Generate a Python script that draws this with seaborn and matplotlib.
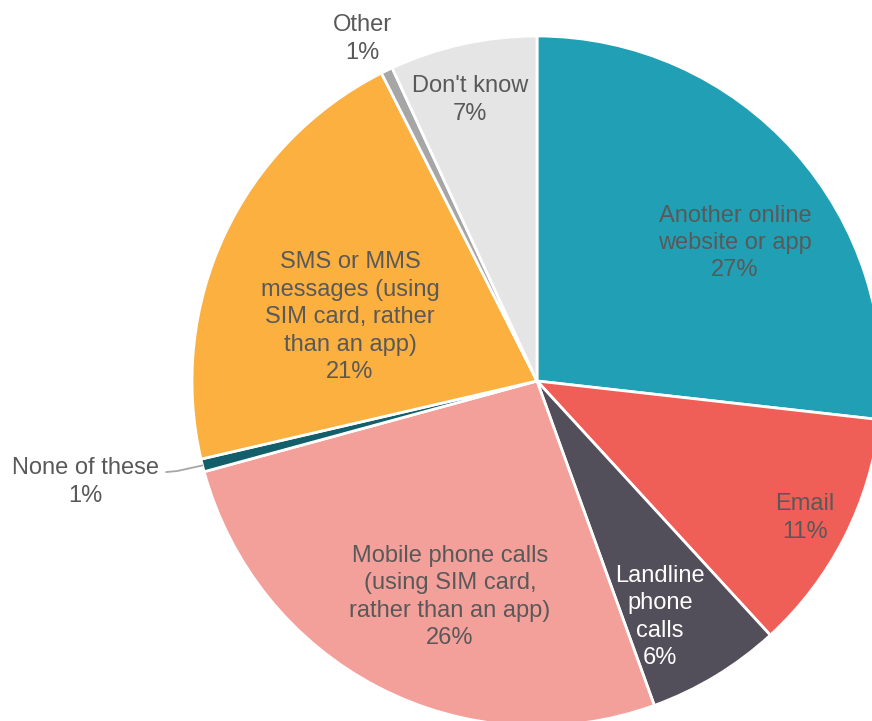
import matplotlib
matplotlib.use("Agg")
import matplotlib.pyplot as plt
import seaborn as sns
import numpy as np

# ---- data ----
categories = ["Another online\nwebsite or app", "Email", "Landline\nphone\ncalls",
              "Mobile phone calls\n(using SIM card,\nrather than an app)", "None of these",
              "SMS or MMS\nmessages (using\nSIM card, rather\nthan an app)", "Other", "Don't know"]
values = [26.8, 11.4, 6.3, 26.3, 0.6, 21.2, 0.55, 6.9]
colors = ["#21A0B5", "#EF5F58", "#524F5A", "#F4A09A", "#135E6B", "#FBB040", "#A6A6A6", "#E5E5E5"]

# ---- styling / layout ----
label_pos = [(0.574, 0.400), (0.777, -0.397), (0.357, -0.684), (-0.252, -0.626),
             (-1.310, -0.293), (-0.542, 0.185), (-0.507, 0.991), (-0.194, 0.814)]
label_colors = ["#595959", "#595959", "white", "#595959", "#595959", "#595959", "#595959", "#595959"]

sns.set_theme(style="white")
plt.rcParams['font.family'] = ['Liberation Sans', 'DejaVu Sans']

fig = plt.figure(figsize=(8.72, 7.21), dpi=100)
ax = fig.add_axes([0, 0, 1, 1])
wedges, _ = ax.pie(values, colors=colors, startangle=90, counterclock=False,
                   radius=1, center=(0, 0),
                   wedgeprops=dict(edgecolor="white", linewidth=2))
ax.set_xlim(-1.5565, 0.971)
ax.set_ylim(-0.9855, 1.1043)
ax.axis("off")

total = sum(values)
for cat, v, (x, y), c in zip(categories, values, label_pos, label_colors):
    ax.text(x, y, f"{cat}\n{round(v / total * 100)}%", ha="center", va="center",
            fontsize=17, color=c, linespacing=1.32)

# leader line for "None of these"
w = wedges[4]
mid = np.deg2rad((w.theta1 + w.theta2) / 2)
px, py = np.cos(mid), np.sin(mid)
ax.plot([-1.075, -1.043, px], [-0.264, -0.261, py], color="#A6A6A6", lw=1.3)

fig.savefig("out.png", dpi=100)
